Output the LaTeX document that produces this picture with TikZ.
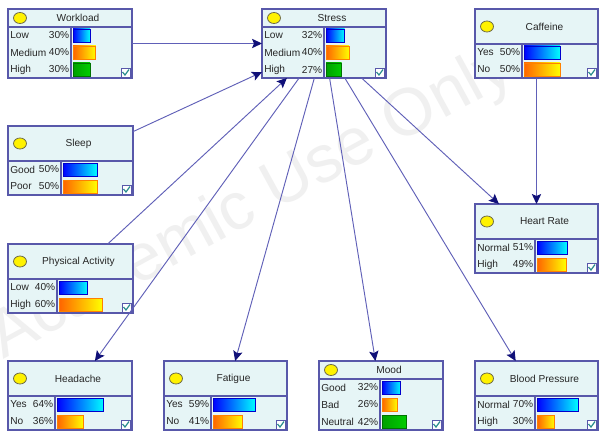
\documentclass[tikz,border=0pt]{standalone}
\usepackage{fontspec}
\setmainfont{Liberation Sans}
\usetikzlibrary{arrows.meta}
\definecolor{boxfill}{RGB}{230,245,246}
\definecolor{boxedge}{RGB}{88,88,170}
\definecolor{edgeline}{RGB}{96,96,184}
\definecolor{tipfill}{RGB}{16,16,120}
\definecolor{checkc}{RGB}{40,140,140}
\definecolor{wmark}{RGB}{240,240,240}

% network node: name, left, top, right, divider, number of states, title, states
\newcommand{\bnode}[8]{
  \pgfmathsetmacro{\bnw}{(#4-#2)*0.75}
  \pgfmathsetmacro{\bnt}{#3+69-17*#6}
  \node[nodebox, minimum width=\bnw pt] (#1) at ({(#2+#4)/2},#3+34.5) {};
  \draw[divline] (#2,\bnt) -- (#4,\bnt) (#5,\bnt) -- (#5,#3+69);
  \draw[bulb] (#2+12,{(#3+\bnt)/2}) ellipse [x radius=6.5, y radius=5.5];
  \node[nodetxt] at ({(#2+#4)/2+8},{(#3+\bnt)/2}) {#7};
  \foreach \lab/\pct/\col [count=\i] in {#8}{
    \node[nodetxt, anchor=west] at (#2+2,\bnt+17*\i-8.5) {\lab};
    \node[nodetxt, anchor=east] at (#5-1.5,\bnt+17*\i-8.5) {\pct\%};
    \draw[bar\col] (#5+2,\bnt+17*\i-15) rectangle ++({\pct/100*(#4-#5-4)},13);
  }
  \draw[chkbox] (#4-11,#3+59) rectangle (#4-2,#3+68);
  \draw[checkc, line width=0.9pt] (#4-9.5,#3+63) -- (#4-7,#3+66) -- (#4-3,#3+60.5);
}

\begin{document}
\begin{tikzpicture}
      [x=0.75pt,y=-0.75pt,
      nodebox/.style={draw=boxedge,fill=boxfill,line width=0.8pt,inner sep=0,outer sep=0,minimum height=51.75pt},
      divline/.style={draw=boxedge,line width=0.8pt},
      bulb/.style={fill=yellow,draw=yellow!35!black,line width=0.6pt},
      nodetxt/.style={font=\fontsize{7.6}{9}\selectfont,inner sep=0,text=black!85},
      barb/.style={left color=blue,right color=cyan,draw=blue!80!black,line width=0.6pt},
      baro/.style={left color={rgb,255:red,255;green,100;blue,0},right color=yellow,draw=orange,line width=0.6pt},
      barg/.style={left color={rgb,255:red,0;green,160;blue,0},right color={rgb,255:red,0;green,205;blue,0},draw=green!45!black,line width=0.6pt},
      chkbox/.style={draw=boxedge,fill=white,line width=0.6pt},
      link/.style={draw=edgeline,line width=0.7pt,-{Stealth[length=7.5pt,width=7pt,inset=1.5pt,color=tipfill]}}]
\fill[white] (0,0) rectangle (599,435);
\useasboundingbox (0,0) rectangle (599,435);
\node[rotate=28.6,font=\fontsize{50}{50}\selectfont,text=wmark] (watermark) at (252,204)
    {Academic Use Only};

\bnode{workload}{8}{9}{132}{71}{3}{Workload}{Low/30/b, Medium/40/o, High/30/g}
\bnode{stress}{262}{9}{386}{324}{3}{Stress}{Low/32/b, Medium/40/o, High/27/g}
\bnode{caffeine}{475}{9}{598}{522}{2}{Caffeine}{Yes/50/b, No/50/o}
\bnode{sleep}{8}{126}{133}{61}{2}{Sleep}{Good/50/b, Poor/50/o}
\bnode{activity}{8}{244}{133}{57}{2}{Physical Activity}{Low/40/b, High/60/o}
\bnode{heartrate}{475}{204}{598}{535}{2}{Heart Rate}{Normal/51/b, High/49/o}
\bnode{headache}{8}{361}{132}{55}{2}{Headache}{Yes/64/b, No/36/o}
\bnode{fatigue}{164}{361}{287}{211}{2}{Fatigue}{Yes/59/b, No/41/o}
\bnode{mood}{319}{361}{443}{380}{3}{Mood}{Good/32/b, Bad/26/o, Neutral/42/g}
\bnode{bloodpressure}{475}{361}{598}{535}{2}{Blood Pressure}{Normal/70/b, High/30/o}

\draw[link] (workload) -- (stress);
\draw[link] (sleep) -- (stress);
\draw[link] (activity) -- (stress);
\foreach \t in {headache,fatigue,mood,bloodpressure,heartrate}
    \draw[link] (stress) -- (\t);
\draw[link] (caffeine) -- (heartrate);
\end{tikzpicture}
\end{document}
